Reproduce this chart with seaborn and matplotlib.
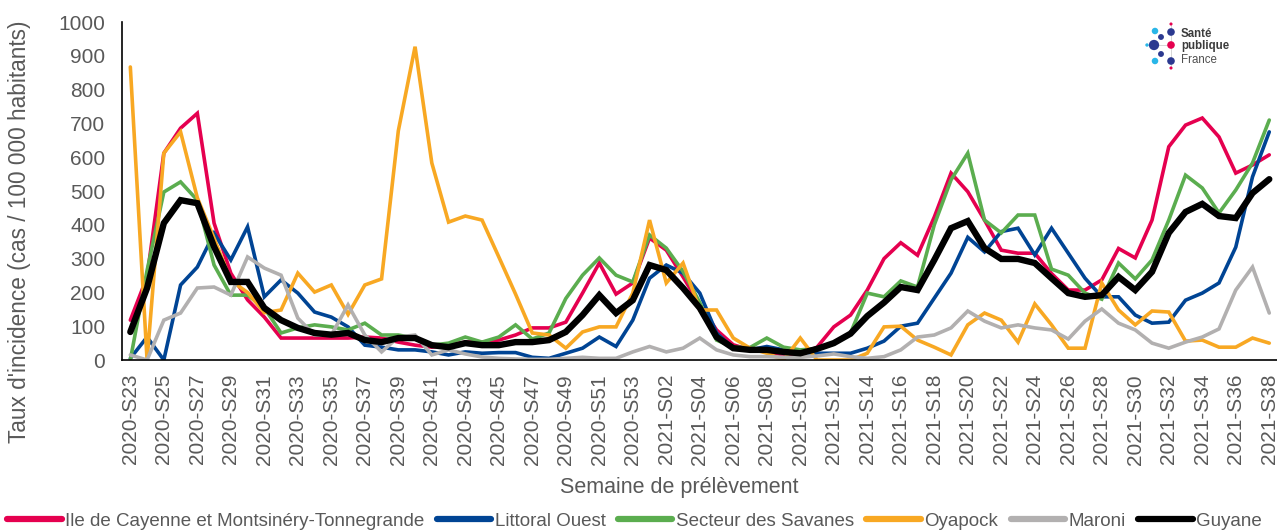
import numpy as np
import pandas as pd
import matplotlib
matplotlib.use("Agg")
import matplotlib.pyplot as plt
import seaborn as sns

# Semaines de prélèvement : 2020-S23 -> 2020-S53 puis 2021-S01 -> 2021-S38
semaines = [f"2020-S{w:02d}" for w in range(23, 54)] + [f"2021-S{w:02d}" for w in range(1, 39)]

# Taux d'incidence (cas / 100 000 habitants)
cayenne = [118, 246, 612, 686, 730, 405, 257, 178, 127, 65, 65, 65, 65, 65, 68, 65, 53, 44, 38, 44,
           53, 53, 59, 74, 95, 95, 112, 198, 287, 195, 228, 361, 325, 246, 163, 89, 45, 30, 25, 15,
           15, 38, 98, 133, 207, 300, 347, 310, 423, 553, 498, 414, 325, 316, 316, 256, 207, 207, 237, 330,
           302, 414, 631, 695, 716, 660, 553, 577, 607]
littoral = [5, 68, 0, 222, 275, 375, 296, 394, 187, 237, 198, 142, 127, 98, 44, 38, 30, 30, 24, 15,
            24, 20, 22, 22, 8, 5, 20, 35, 68, 40, 118, 242, 281, 257, 198, 80, 35, 30, 40, 30,
            24, 20, 20, 20, 35, 56, 100, 109, 183, 257, 363, 320, 380, 390, 311, 390, 316, 242, 187, 187,
            133, 109, 112, 177, 198, 228, 334, 542, 675]
savanes = [0, 265, 497, 527, 473, 281, 192, 192, 154, 80, 95, 104, 98, 89, 109, 74, 74, 65, 44, 50,
           68, 53, 68, 104, 62, 80, 182, 251, 302, 251, 231, 370, 331, 262, 170, 59, 38, 37, 65, 38,
           30, 34, 47, 80, 198, 187, 234, 216, 400, 533, 612, 414, 376, 429, 429, 269, 251, 198, 180, 287,
           240, 296, 414, 547, 509, 435, 503, 583, 710]
oyapock = [867, 0, 612, 675, 480, 360, 235, 200, 140, 148, 257, 201, 222, 135, 222, 240, 678, 927, 583, 408,
           426, 414, 305, 195, 80, 74, 35, 83, 98, 98, 198, 414, 228, 287, 148, 148, 65, 35, 20, 0,
           65, 0, 0, 0, 20, 98, 100, 59, 38, 15, 104, 139, 118, 53, 166, 104, 35, 35, 228, 148,
           104, 145, 142, 56, 59, 38, 38, 65, 50]
maroni = [15, 0, 118, 139, 213, 216, 192, 305, 272, 251, 124, 74, 74, 163, 74, 24, 68, 74, 15, 30,
          18, 9, 5, 3, 2, 2, 5, 8, 5, 5, 24, 40, 24, 35, 65, 30, 15, 10, 10, 8,
          8, 12, 18, 10, 5, 10, 30, 68, 74, 95, 145, 115, 95, 104, 95, 89, 62, 115, 151, 109,
          89, 50, 35, 53, 68, 92, 207, 275, 139]
guyane = [83, 213, 405, 473, 464, 335, 231, 231, 154, 118, 95, 80, 75, 80, 59, 53, 65, 65, 44, 38,
          50, 44, 44, 53, 53, 59, 83, 133, 192, 139, 177, 281, 266, 213, 154, 68, 35, 30, 30, 24,
          20, 33, 50, 78, 130, 170, 216, 207, 296, 390, 411, 331, 299, 299, 287, 242, 198, 187, 192, 246,
          207, 261, 376, 438, 462, 426, 420, 494, 535]

series = [
    ("Ile de Cayenne et Montsinéry-Tonnegrande", cayenne, "#E5004F", 2.6),
    ("Littoral Ouest", littoral, "#004494", 2.6),
    ("Secteur des Savanes", savanes, "#5BAD4F", 2.6),
    ("Oyapock", oyapock, "#F8A823", 2.6),
    ("Maroni", maroni, "#B2B0B0", 2.6),
    ("Guyane", guyane, "#000000", 4.6),
]

sns.set_style("white")
plt.rcParams["font.family"] = ["Liberation Sans", "DejaVu Sans"]
gris = "#595959"

fig = plt.figure(figsize=(12.77, 5.31), dpi=100)
ax = fig.add_axes([0.0955, 0.322, 0.905, 0.6365])

x = np.arange(len(semaines))
for nom, valeurs, couleur, lw in series:
    sns.lineplot(x=x, y=valeurs, color=couleur, lw=lw, label=nom, ax=ax,
                 solid_joinstyle="miter", legend=False)

ax.set_xlim(-0.5, len(semaines) - 0.5)
ax.set_ylim(0, 1000)
ax.set_yticks(range(0, 1001, 100))
ax.set_xticks(x)
ax.set_xticklabels([s if i % 2 == 0 else "" for i, s in enumerate(semaines)], rotation=90)
ax.tick_params(axis="both", direction="out", length=6, width=1, color="black",
               labelcolor=gris, labelsize=15)
ax.tick_params(axis="x", pad=4)
ax.tick_params(axis="y", pad=6)
for cote in ["top", "right"]:
    ax.spines[cote].set_visible(False)
for cote in ["left", "bottom"]:
    ax.spines[cote].set_color("black")
    ax.spines[cote].set_linewidth(1.2)

ax.set_xlabel("Semaine de prélèvement", fontsize=15.5, color=gris)
ax.xaxis.set_label_coords(0.482, -0.345)
ax.set_ylabel("Taux d'incidence (cas / 100 000 habitants)", fontsize=16.3, color=gris)
ax.yaxis.set_label_coords(-0.079, 0.38)

handles, labels = ax.get_legend_handles_labels()
leg = fig.legend(handles, labels, loc="lower center", bbox_to_anchor=(0.497, -0.03), ncol=6,
                 frameon=False, fontsize=13.5, handlelength=2.9, handletextpad=0.2,
                 columnspacing=0.65, labelcolor=gris)
for ligne in leg.get_lines():
    ligne.set_linewidth(4.5)

# Logo Santé publique France
logo = fig.add_axes([1140 / 1277, 1 - 72 / 531, 40 / 1277, 54 / 531])
logo.set_xlim(1140, 1180)
logo.set_ylim(72, 18)
logo.axis("off")
pts_x = [1171, 1171, 1155, 1161, 1154, 1171, 1147, 1161, 1155, 1171, 1171]
pts_y = [24, 32, 31, 37, 45, 45, 45, 54, 61, 61, 68]
pts_c = ["#E5004F", "#2B3990", "#29B6E8", "#2B3990", "#2B3990", "#E5004F", "#29B6E8",
         "#2B3990", "#29B6E8", "#2B3990", "#E5004F"]
pts_s = [5, 30, 22, 18, 55, 30, 6, 18, 22, 30, 5]
logo.plot([1147, 1171], [45, 45], color="#d0d0d0", lw=0.6, zorder=0)
logo.plot([1171, 1171], [24, 68], color="#d0d0d0", lw=0.6, zorder=0)
logo.scatter(pts_x, pts_y, c=pts_c, s=pts_s, lw=0)
fig.text(1181 / 1277, 1 - 34 / 531, "Santé", fontsize=8.3, fontweight="bold", color="#3C3C3C", va="center")
fig.text(1181 / 1277, 1 - 46 / 531, "publique", fontsize=8.3, fontweight="bold", color="#3C3C3C", va="center")
fig.text(1181 / 1277, 1 - 60 / 531, "France", fontsize=8.3, color="#505050", va="center")

fig.savefig("out.png", dpi=100)
